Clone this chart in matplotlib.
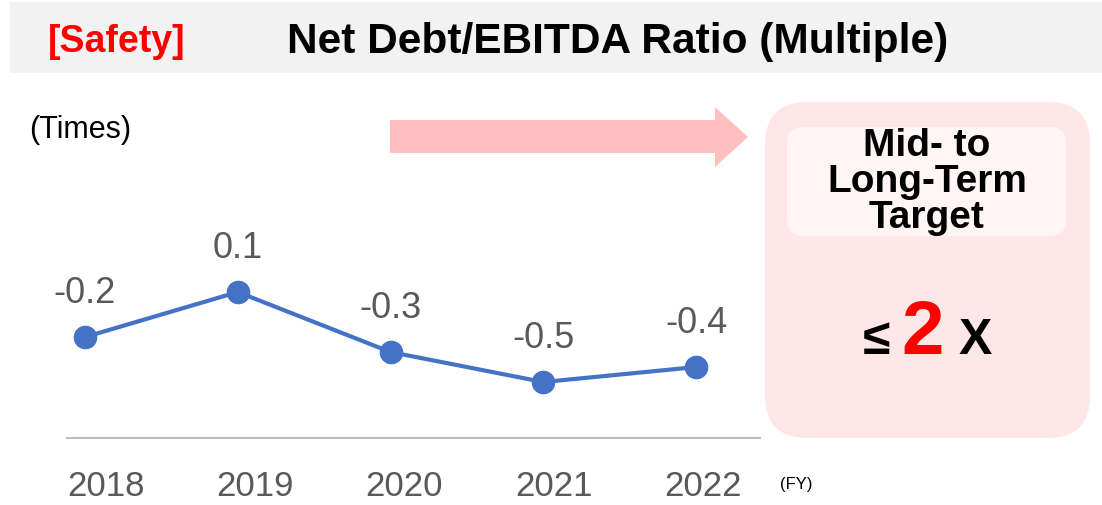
import matplotlib
matplotlib.use("Agg")
import matplotlib.pyplot as plt
from matplotlib.patches import Rectangle, FancyBboxPatch, Polygon

plt.rcParams['font.family'] = ['Liberation Sans', 'DejaVu Sans']

# data
years = ["2018", "2019", "2020", "2021", "2022"]
ratio = [-0.2, 0.1, -0.3, -0.5, -0.4]
ratio_labels = ["-0.2", "0.1", "-0.3", "-0.5", "-0.4"]

W, H = 1102, 505
fig = plt.figure(figsize=(W / 100, H / 100), dpi=100)

# background layer in pixel coordinates
bg = fig.add_axes([0, 0, 1, 1], zorder=0)
bg.set_xlim(0, W); bg.set_ylim(H, 0); bg.axis("off")

bg.add_patch(Rectangle((10, 2), W - 10, 71, color="#f2f2f2", lw=0))
bg.text(117, 42, "[Safety]", color="#ff0000", fontsize=27, fontweight="bold",
        ha="center", va="center")
bg.text(618, 42, "Net Debt/EBITDA Ratio (Multiple)", color="black", fontsize=30.5,
        fontweight="bold", ha="center", va="center")

bg.text(29, 130, "(Times)", fontsize=22, ha="left", va="center")
bg.text(780, 485, "(FY)", fontsize=12, ha="left", va="center")

# pink arrow
arrow = [(390, 120), (715, 120), (715, 107), (748, 137), (715, 167), (715, 153), (390, 153)]
bg.add_patch(Polygon(arrow, closed=True, facecolor="#ffbfbf", edgecolor="none"))

# target box
bg.add_patch(FancyBboxPatch((765, 102), 325, 336, boxstyle="round,pad=0,rounding_size=42",
                            facecolor="#ffe7e7", edgecolor="none"))
bg.add_patch(FancyBboxPatch((787, 127), 279, 109, boxstyle="round,pad=0,rounding_size=16",
                            facecolor="#fff5f5", edgecolor="none"))
bg.text(927, 182, "Mid- to\nLong-Term\nTarget", fontsize=28, fontweight="bold",
        ha="center", va="center", linespacing=1.0)
bg.text(877, 354, "\u2264", fontsize=36, fontweight="bold", ha="center", va="baseline")
bg.text(923, 354, "2", fontsize=55, fontweight="bold", color="#ff0000",
        ha="center", va="baseline")
bg.text(975, 354, "X", fontsize=36, fontweight="bold", ha="center", va="baseline")

# line chart
ax = fig.add_axes([67 / W, 1 - 438 / H, (760 - 67) / W, (438 - 100) / H], zorder=2)
ax.patch.set_alpha(0)
x = list(range(len(years)))
ax.plot(x, ratio, color="#4472c4", lw=3, marker="o", markersize=16)
for i, (v, lbl) in enumerate(zip(ratio, ratio_labels)):
    ax.annotate(lbl, (i, v), xytext=(0, 31), textcoords="offset points",
                ha="center", va="center", fontsize=26, color="#595959")

ax.set_xlim(-0.118, 4.419)
ax.set_ylim(-0.873, 1.38)
for s in ["top", "left", "right"]:
    ax.spines[s].set_visible(False)
ax.spines["bottom"].set_color("#bfbfbf")
ax.spines["bottom"].set_linewidth(1.5)
ax.set_yticks([])
# year labels sit slightly off the points, as in the source slide
ax.set_xticks([0.137 + 0.977 * i for i in x])
ax.set_xticklabels(years, fontsize=25, color="#595959")
ax.tick_params(axis="x", length=0, pad=23)

fig.savefig("out.png", dpi=100)
